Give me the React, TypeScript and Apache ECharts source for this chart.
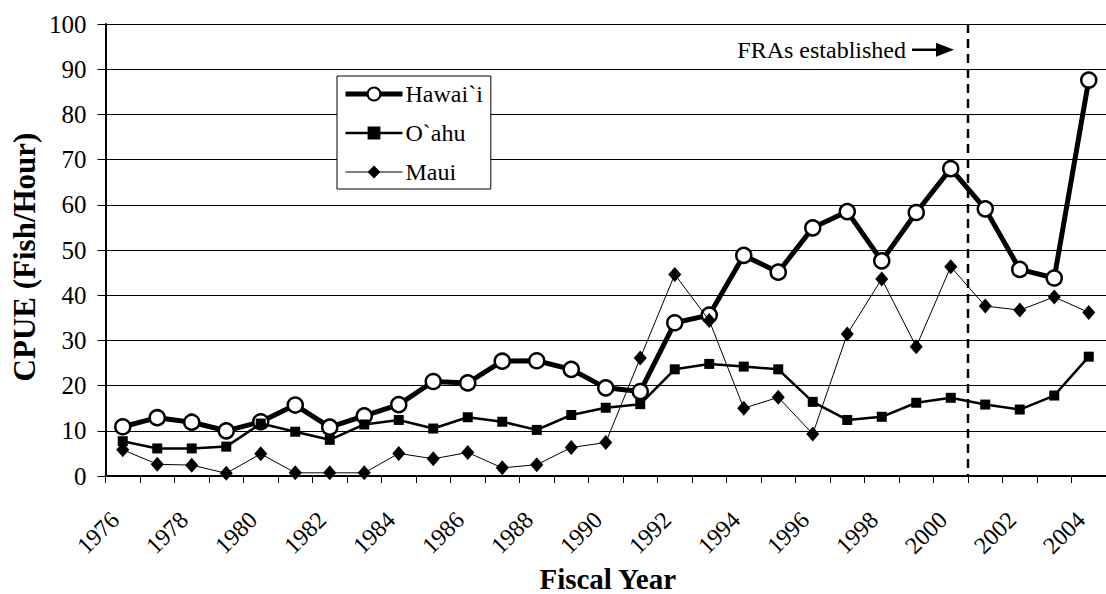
import React, { useEffect, useRef } from "react";
import * as echarts from "echarts";

const years = [
  "1976", "1977", "1978", "1979", "1980", "1981", "1982", "1983", "1984", "1985",
  "1986", "1987", "1988", "1989", "1990", "1991", "1992", "1993", "1994", "1995",
  "1996", "1997", "1998", "1999", "2000", "2001", "2002", "2003", "2004",
];
const hawaii = [
  10.9, 12.9, 11.9, 10.0, 12.0, 15.7, 10.8, 13.3, 15.8, 20.9,
  20.6, 25.4, 25.5, 23.6, 19.5, 18.7, 33.9, 35.6, 48.8, 45.1,
  54.9, 58.5, 47.6, 58.3, 68.0, 59.1, 45.7, 43.8, 87.6,
];
const oahu = [
  7.7, 6.1, 6.1, 6.5, 11.6, 9.8, 8.0, 11.4, 12.4, 10.5,
  13.0, 12.0, 10.2, 13.5, 15.1, 15.9, 23.6, 24.8, 24.2, 23.6,
  16.4, 12.4, 13.1, 16.2, 17.3, 15.8, 14.7, 17.8, 26.4,
];
const maui = [
  5.8, 2.6, 2.4, 0.6, 4.9, 0.7, 0.7, 0.7, 5.0, 3.8,
  5.2, 1.8, 2.5, 6.3, 7.4, 26.1, 44.6, 34.4, 15.0, 17.4,
  9.3, 31.4, 43.6, 28.6, 46.3, 37.6, 36.7, 39.6, 36.2,
];
const seriesNames = ["Hawai`i", "O`ahu", "Maui"];
const yTicks = { min: 0, max: 100, interval: 10 };
const yTitle = "CPUE (Fish/Hour)";
const xTitle = "Fiscal Year";
const annotation = "FRAs established";
const fraBoundary = ["2000", "2001"];

const FONT = "Liberation Serif";

export default function App() {
  const ref = useRef<HTMLDivElement>(null);
  useEffect(() => {
    if (!ref.current) return;
    const chart = echarts.init(ref.current, null, { renderer: "svg" });
    chart.setOption({
      animation: false,
      backgroundColor: "#fff",
      textStyle: { fontFamily: FONT },
      grid: { left: 105.5, right: -10.5, top: 24, bottom: 118, containLabel: false },
      legend: {
        orient: "vertical",
        left: 337,
        top: 76,
        padding: [6, 8, 5, 6],
        itemGap: 15,
        itemWidth: 57,
        itemHeight: 16,
        backgroundColor: "#fff",
        borderColor: "#000",
        borderWidth: 1,
        lineStyle: { width: "inherit" },
        textStyle: { fontFamily: FONT, fontSize: 24, color: "#000", padding: [0, 0, 0, -2] },
        data: seriesNames,
      },
      xAxis: {
        type: "category",
        data: years,
        boundaryGap: true,
        axisLine: { lineStyle: { color: "#000", width: 2 } },
        axisTick: { show: true, length: 7, lineStyle: { color: "#000", width: 1 }, interval: 0 },
        axisLabel: {
          interval: 1,
          rotate: 45,
          margin: 32,
          padding: [0, 11, 0, 0],
          fontFamily: FONT,
          fontSize: 24,
          color: "#000",
        },
        splitLine: { show: false },
      },
      yAxis: {
        type: "value",
        min: yTicks.min,
        max: yTicks.max,
        interval: yTicks.interval,
        axisLine: { show: true, lineStyle: { color: "#000", width: 2 } },
        axisTick: { show: true, length: 8, lineStyle: { color: "#000", width: 1 } },
        axisLabel: { margin: 19, fontFamily: FONT, fontSize: 25, color: "#000" },
        splitLine: { show: true, lineStyle: { color: "#000", width: 1 } },
      },
      series: [
        {
          name: seriesNames[0],
          type: "line",
          data: hawaii,
          symbol: "circle",
          symbolSize: 15,
          itemStyle: { color: "#fff", borderColor: "#000", borderWidth: 2.5 },
          lineStyle: { color: "#000", width: 5 },
          z: 2,
        },
        {
          name: seriesNames[1],
          type: "line",
          data: oahu,
          symbol: "rect",
          symbolSize: 10,
          itemStyle: { color: "#000" },
          lineStyle: { color: "#000", width: 2.5 },
          z: 3,
        },
        {
          name: seriesNames[2],
          type: "line",
          data: maui,
          symbol: "diamond",
          symbolSize: [13, 15],
          itemStyle: { color: "#000" },
          lineStyle: { color: "#000", width: 1 },
          z: 4,
        },
      ],
    });

    const xa = chart.convertToPixel({ xAxisIndex: 0 }, fraBoundary[0]) as number;
    const xb = chart.convertToPixel({ xAxisIndex: 0 }, fraBoundary[1]) as number;
    const bx = (xa + xb) / 2;
    const yTop = chart.convertToPixel({ yAxisIndex: 0 }, yTicks.max) as number;
    const yBot = chart.convertToPixel({ yAxisIndex: 0 }, yTicks.min) as number;
    const yText = chart.convertToPixel({ yAxisIndex: 0 }, 94.3) as number;
    const xMid = ((chart.convertToPixel({ xAxisIndex: 0 }, years[0]) as number) +
      (chart.convertToPixel({ xAxisIndex: 0 }, years[years.length - 1]) as number)) / 2;

    chart.setOption({
      graphic: [
        {
          type: "line",
          shape: { x1: bx, y1: yTop, x2: bx, y2: yBot },
          style: { stroke: "#000", lineWidth: 2.5, lineDash: [9, 6] },
          z: 10,
        },
        {
          type: "text",
          x: bx - 62,
          y: yText,
          style: {
            text: annotation,
            fontFamily: FONT,
            fontSize: 24,
            fill: "#000",
            align: "right",
            verticalAlign: "middle",
          },
        },
        {
          type: "line",
          shape: { x1: bx - 56, y1: yText, x2: bx - 28, y2: yText },
          style: { stroke: "#000", lineWidth: 2.5 },
        },
        {
          type: "polygon",
          shape: { points: [[bx - 32, yText - 7], [bx - 14, yText], [bx - 32, yText + 7]] },
          style: { fill: "#000" },
        },
        {
          type: "text",
          x: 24,
          y: 257,
          rotation: Math.PI / 2,
          style: {
            text: yTitle,
            fontFamily: FONT,
            fontSize: 31,
            fontWeight: "bold",
            fill: "#000",
            align: "center",
            verticalAlign: "middle",
          },
        },
        {
          type: "text",
          x: xMid + 2,
          y: 579,
          style: {
            text: xTitle,
            fontFamily: FONT,
            fontSize: 29,
            fontWeight: "bold",
            fill: "#000",
            align: "center",
            verticalAlign: "middle",
          },
        },
      ],
    });

    return () => chart.dispose();
  }, []);
  return (
    <div
      ref={ref}
      style={{ position: "absolute", left: 0, top: 0, width: 1106, height: 594, overflow: "hidden" }}
    />
  );
}
